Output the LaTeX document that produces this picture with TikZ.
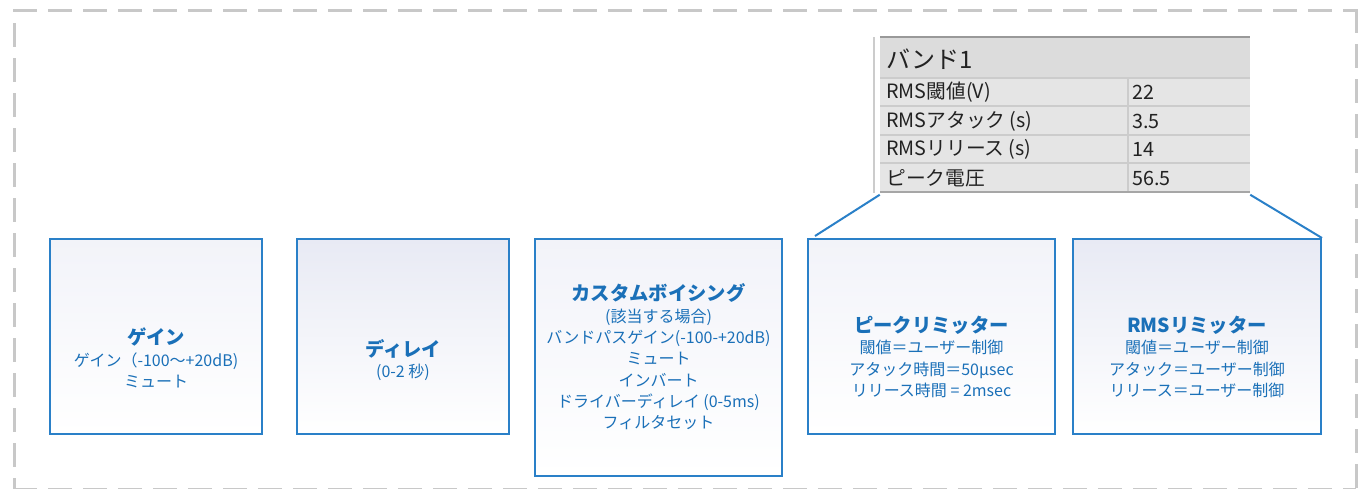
\documentclass[tikz,border=0pt]{standalone}
\usepackage{fontspec}
\setmainfont{Noto Sans CJK JP}
\usetikzlibrary{calc}
\definecolor{boxblue}{HTML}{2A80C8}
\definecolor{txtblue}{HTML}{1A70B8}
\definecolor{bordgray}{HTML}{C8C8C8}
\definecolor{hdrgray}{HTML}{DCDCDC}
\definecolor{rowgray}{HTML}{E5E5E5}
\definecolor{sepgray}{HTML}{CCCCCC}
\definecolor{lav}{HTML}{E8EAF4}
\definecolor{lavlight}{HTML}{F2F3F9}
\definecolor{tabtext}{HTML}{222222}
\tikzset{
  bord/.style={draw=bordgray, line width=2.25pt, dash pattern=on 18pt off 8.25pt},
  blk/.style={draw=boxblue, line width=1.5pt, inner sep=0pt, rectangle},
  blkA/.style={blk, top color=lavlight, middle color=lavlight!30!white, bottom color=white},
  blkB/.style={blk, top color=lav, middle color=lav!40!white, bottom color=white},
  blktxt/.style={text=txtblue, align=center, inner sep=0pt, font=\fontsize{12}{16}\selectfont},
  tabtxt/.style={text=tabtext, inner sep=0pt, anchor=west, font=\fontsize{14.8}{17}\selectfont},
  conn/.style={draw=boxblue, line width=1.5pt},
}
\newcommand{\ttlfont}{\fontsize{14.5}{16}\selectfont\bfseries}
\begin{document}
\begin{tikzpicture}[x=0.75pt, y=-0.75pt]
\useasboundingbox (0,0) rectangle (1360,489);
% dashed frame
\draw[bord] (13,10) -- (1356,10);
\draw[bord] (14,23) -- (14,492);
\draw[bord] (1356,9) -- (1356,492);
\draw[bord] (13,489.5) -- (1356,489.5);

% table
\draw[draw=sepgray, line width=1.5pt] (874,37) -- (874,193);
\fill[hdrgray] (880,37) rectangle (1250,78);
\fill[rowgray] (880,78) rectangle (1250,192);
\draw[sepgray, line width=1.2pt] (880,78) -- (1250,78);
\draw[sepgray, line width=1.2pt] (880,106) -- (1250,106);
\draw[sepgray, line width=1.2pt] (880,135) -- (1250,135);
\draw[sepgray, line width=1.2pt] (880,163) -- (1250,163);
\draw[sepgray, line width=1.2pt] (1128,78) -- (1128,192);
\draw[draw=black!40, line width=1pt] (880,37) -- (1250,37);
\draw[draw=black!35, line width=1.8pt] (880,192) -- (1250,192);
\node[minimum width=277.5pt, minimum height=116.25pt, inner sep=0pt] (tbl) at (1065,115) {};
\node[tabtxt, font=\fontsize{18}{20}\selectfont] (th) at (886,59) {バンド1};
\node[tabtxt] (r1a) at (886,92) {RMS閾値(V)};
\node[tabtxt] (r1b) at (1132,92) {22};
\node[tabtxt] (r2a) at (886,121) {RMSアタック (s)};
\node[tabtxt] (r2b) at (1132,121) {3.5};
\node[tabtxt] (r3a) at (886,149.5) {RMSリリース (s)};
\node[tabtxt] (r3b) at (1132,149.5) {14};
\node[tabtxt] (r4a) at (886,178) {ピーク電圧};
\node[tabtxt] (r4b) at (1132,178) {56.5};

% blocks
\node[blkA, minimum width=159pt, minimum height=146.25pt] (b1) at (156,336.5) {};
\node[blkB, minimum width=159pt, minimum height=146.25pt] (b2) at (403,336.5) {};
\node[blkA, minimum width=185.25pt, minimum height=177.75pt] (b3) at (658.5,357.5) {};
\node[blkA, minimum width=185.25pt, minimum height=146.25pt] (b4) at (931.5,336.5) {};
\node[blkB, minimum width=186pt, minimum height=146.25pt] (b5) at (1197,336.5) {};

\node[blktxt] (t1) at (156,358) {{\ttlfont ゲイン}\\ゲイン（-100～+20dB)\\ミュート};
\node[blktxt] (t2) at (403,360) {{\ttlfont ディレイ}\\(0-2 秒)};
\node[blktxt] (t3) at (658.5,357) {{\ttlfont カスタムボイシング}\\(該当する場合)\\バンドパスゲイン(-100-+20dB)\\ミュート\\インバート\\ドライバーディレイ (0-5ms)\\フィルタセット};
\node[blktxt] (t4) at (931.5,357) {{\ttlfont ピークリミッター}\\閾値＝ユーザー制御\\アタック時間＝50μsec\\リリース時間 = 2msec};
\node[blktxt] (t5) at (1197,357) {{\ttlfont RMSリミッター}\\閾値＝ユーザー制御\\アタック＝ユーザー制御\\リリース＝ユーザー制御};

% connectors
\coordinate (p4) at (815,236);
\draw[conn] ($(tbl.south west)+(0,2)$) -- (p4);
\draw[conn] ($(tbl.south east)+(0,2)$) -- (b5.north east);
\end{tikzpicture}
\end{document}
